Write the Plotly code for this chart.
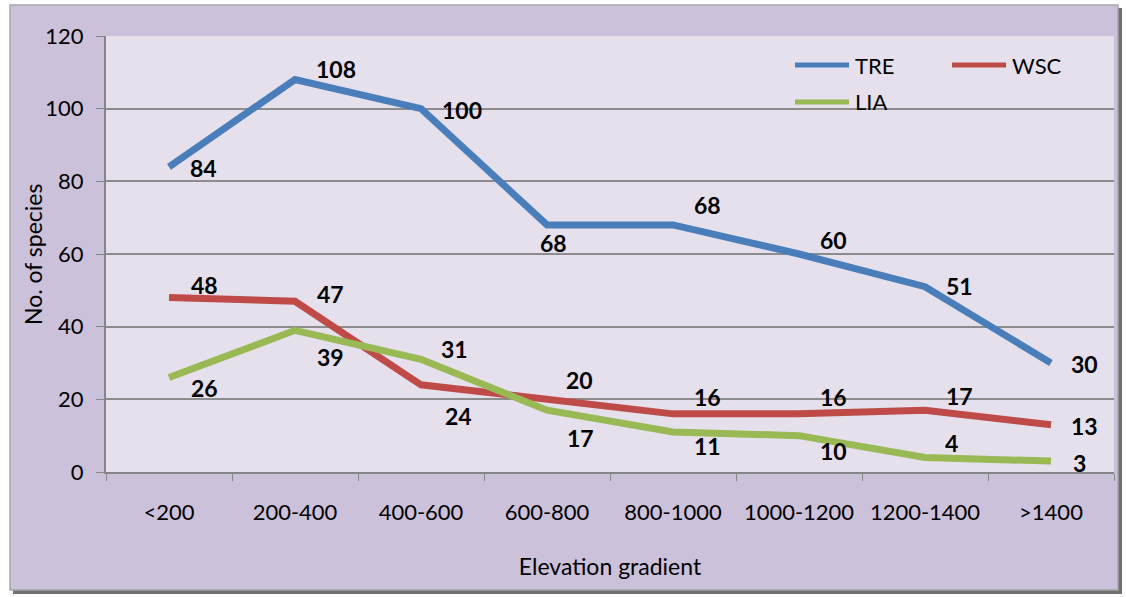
import plotly.graph_objects as go

# Species richness along the elevation gradient
categories = ["<200", "200-400", "400-600", "600-800", "800-1000",
              "1000-1200", "1200-1400", ">1400"]
tre = [84, 108, 100, 68, 68, 60, 51, 30]
wsc = [48, 47, 24, 20, 16, 16, 17, 13]
lia = [26, 39, 31, 17, 11, 10, 4, 3]

# Pixel offsets of each value label from its point (dx right, dy down)
tre_off = [(34, 1), (41, -11), (41, 1), (6, 18), (34, -20), (34, -14), (34, -1), (33, 1)]
wsc_off = [(35, -13), (35, -7), (37, 31), (32, -19), (34, -17), (34, -17), (34, -14), (33, 1)]
lia_off = [(35, 10), (35, 27), (33, -10), (33, 28), (34, 14), (34, 15), (26, -14), (28, 2)]

W, H = 1126, 597
L, R, T, B = 106, 12, 36, 125
PW, PH = W - L - R, H - T - B

def px(x):
    return (x - L) / PW

def py(y):
    return (H - B - y) / PH

series = [
    ("TRE", tre, "#4a7ebb", tre_off),
    ("WSC", wsc, "#be4b48", wsc_off),
    ("LIA", lia, "#98b954", lia_off),
]

FONT = "Lato, Open Sans, sans-serif"

fig = go.Figure()
annotations = []
for name, vals, color, offs in series:
    fig.add_trace(go.Scatter(
        x=categories, y=vals, name=name, mode="lines",
        line=dict(color=color, width=7),
        showlegend=False, hoverinfo="x+y+name",
    ))
    for c, v, (dx, dy) in zip(categories, vals, offs):
        annotations.append(dict(
            x=c, y=v, xref="x", yref="y", text=f"<b>{v}</b>",
            showarrow=False, xshift=dx, yshift=-dy,
            xanchor="center", yanchor="middle",
            font=dict(family=FONT, size=23, color="black"),
        ))

shapes = [
    # chart frame shadow and body
    dict(type="rect", xref="paper", yref="paper", layer="below",
         x0=px(13), x1=px(1122), y0=py(8), y1=py(594),
         fillcolor="#6f6f6f", line=dict(width=0)),
    dict(type="rect", xref="paper", yref="paper", layer="below",
         x0=px(10), x1=px(1118), y0=py(5), y1=py(590),
         fillcolor="#ccc1da", line=dict(color="#a6a6a6", width=1.5)),
    dict(type="rect", xref="paper", yref="paper", layer="below",
         x0=0, x1=1, y0=0, y1=1, fillcolor="#e5e0ec", line=dict(width=0)),
]

# Legend drawn as line samples with labels
legend_items = [("TRE", "#4a7ebb", 795, 65), ("WSC", "#be4b48", 952, 65),
                ("LIA", "#98b954", 795, 102)]
for name, color, lx, ly in legend_items:
    shapes.append(dict(type="line", xref="paper", yref="paper",
                       x0=px(lx), x1=px(lx + 54), y0=py(ly), y1=py(ly),
                       line=dict(color=color, width=5)))
    annotations.append(dict(x=px(lx + 58), y=py(ly), xref="paper", yref="paper",
                            text=name, showarrow=False,
                            xanchor="left", yanchor="middle",
                            font=dict(family=FONT, size=22, color="black")))

# Y-axis title placed beside the tick labels
annotations.append(dict(x=px(33), y=py(254), xref="paper", yref="paper",
                        text="No. of species", textangle=-90, showarrow=False,
                        xanchor="center", yanchor="middle",
                        font=dict(family=FONT, size=23, color="black")))

fig.update_layout(
    width=W, height=H,
    margin=dict(l=L, r=R, t=T, b=B),
    paper_bgcolor="white",
    plot_bgcolor="rgba(0,0,0,0)",
    shapes=shapes,
    annotations=annotations,
    font=dict(family=FONT, size=22, color="black"),
    xaxis=dict(
        type="category", categoryorder="array", categoryarray=categories,
        tickson="boundaries", ticks="outside", ticklen=7, tickcolor="#868686",
        showline=True, linecolor="#868686", linewidth=2,
        showgrid=False, ticklabelstandoff=20,
        tickfont=dict(family=FONT, size=22, color="black"),
        title=dict(text="Elevation gradient", standoff=34,
                   font=dict(family=FONT, size=23, color="black")),
        range=[-0.5, 7.5],
    ),
    yaxis=dict(
        range=[0, 120], tickvals=[0, 20, 40, 60, 80, 100, 120],
        ticks="outside", ticklen=8, tickcolor="#868686",
        showline=True, linecolor="#868686", linewidth=2,
        showgrid=True, gridcolor="#8c8c8c", gridwidth=1.5,
        zeroline=False, ticklabelstandoff=8,
        tickfont=dict(family=FONT, size=22, color="black"),
    ),
)

fig.write_html("out.html")
